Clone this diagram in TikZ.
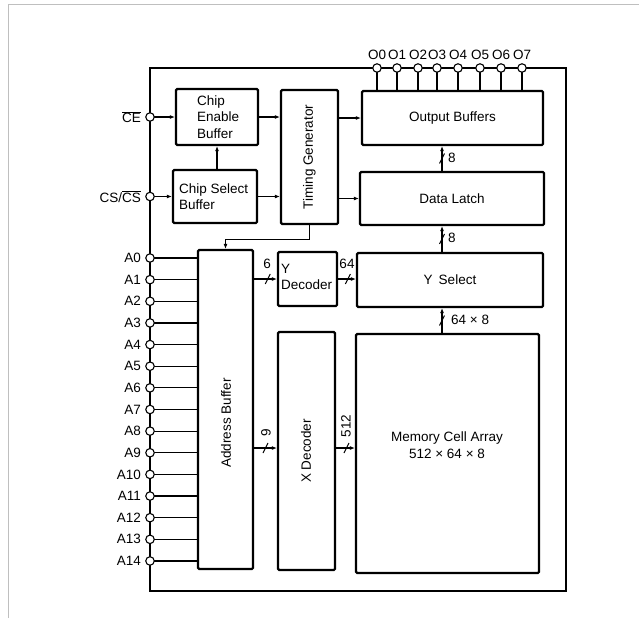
\documentclass[tikz,border=0pt]{standalone}
\usepackage{fontspec}
\setmainfont{Liberation Sans}
\usetikzlibrary{arrows.meta}
\newcommand\fs{\fontsize{13.5}{16.5}\selectfont}
\newcommand\ovl[1]{\ensuremath{\overline{\hbox{#1}}}}
\begin{document}
\begin{tikzpicture}[x=1pt,y=-1pt,
  blk/.style={draw,line width=2.2pt,rounded corners=1.2pt,fill=white,inner sep=0pt},
  txt/.style={font=\fs,inner sep=1pt},
  conn/.style={line width=1.2pt},
  arr/.style={conn,-{Latex[length=5pt,width=4pt]}},
  pinc/.style={circle,draw,line width=1.1pt,fill=white,minimum size=8.5pt,inner sep=0pt},
  lbl/.style={font=\fs,inner sep=1pt},
  slashln/.style={line width=1pt}
]
\useasboundingbox (0,0) rectangle (639,618);
% page frame
\draw[gray!50,line width=0.6pt] (8,618) -- (8,4) -- (639,4);
% chip outline
\draw[line width=1.6pt] (150,68) rectangle (566,591);

% blocks
\node[blk,minimum width=181pt,minimum height=54pt] (ob) at (452.5,118) {};
\node[txt] (obt) at (ob) {Output Buffers};
\node[blk,minimum width=184pt,minimum height=53pt] (dl) at (452,198.5) {};
\node[txt] (dlt) at (dl) {Data Latch};
\node[blk,minimum width=186pt,minimum height=54pt] (ys) at (450,280) {};
\node[txt] (yst) at (ys) {Y\hspace{6pt}Select};
\node[blk,minimum width=183pt,minimum height=239pt] (mca) at (447.5,453.5) {};
\node[txt,align=center] (mcat) at (447,445) {Memory Cell Array\\512 × 64 × 8};
\node[blk,minimum width=82pt,minimum height=56pt] (ceb) at (217,117) {};
\node[txt,align=left,anchor=west] (cebt) at (196,117) {Chip\\Enable\\Buffer};
\node[blk,minimum width=84pt,minimum height=53pt] (csb) at (215,196.5) {};
\node[txt,align=left,anchor=west] (csbt) at (178,196.5) {Chip Select\\Buffer};
\node[blk,minimum width=57pt,minimum height=134pt] (tg) at (309.5,157) {};
\node[txt,rotate=90] (tgt) at (tg) {Timing Generator};
\node[blk,minimum width=55pt,minimum height=319pt] (ab) at (225.5,409.5) {};
\node[txt,rotate=90] (abt) at (226,423) {Address Buffer};
\node[blk,minimum width=59pt,minimum height=54pt] (yd) at (307.5,279) {};
\node[txt,align=left,anchor=west] (ydt) at (280,277) {Y\\Decoder};
\node[blk,minimum width=57pt,minimum height=238pt] (xd) at (306.5,451) {};
\node[txt,rotate=90] (xdt) at (306,451) {X Decoder};

% helper coordinates
\coordinate (xrow) at (0,448);
\coordinate (busx) at (442,0);

% control connectors
\coordinate (cepos) at (150,117);
\coordinate (cspos) at (150,196.5);
\draw[arr] (cepos) -- (ceb.west |- cepos);
\draw[arr] (cspos) -- (csb.west |- cspos);
\draw[arr] (csb.north -| ceb.south) -- (ceb.south);
\draw[arr] (ceb.east) -- (ceb.east -| tg.west);
\draw[arr] (csb.east) -- (csb.east -| tg.west);
\draw[arr] (tg.east |- ob.west) -- (ob.west);
\draw[arr] (tg.east |- dl.west) -- (dl.west);
\draw[arr] (tg.south) -- ++(0,14) -| (ab.north);

% buses
\draw[arr] (ab.east |- yd.west) -- coordinate[pos=0.6] (s1) (yd.west);
\draw[arr] (yd.east) -- coordinate[pos=0.55] (s2) (yd.east -| ys.west);
\draw[arr] (ab.east |- xrow) -- coordinate[pos=0.5] (s3) (xd.west |- xrow);
\draw[arr] (xd.east |- xrow) -- coordinate[pos=0.55] (s4) (mca.west |- xrow);
\draw[arr] (mca.north -| busx) -- coordinate[pos=0.5] (s5) (ys.south -| busx);
\draw[arr] (ys.north -| busx) -- coordinate[pos=0.5] (s6) (dl.south -| busx);
\draw[arr] (dl.north -| busx) -- coordinate[pos=0.5] (s7) (ob.south -| busx);
\foreach \s in {s1,s2,s3,s4,s5,s6,s7}
  \draw[slashln] (\s) ++(-2.5,5) -- ++(5,-10);

% bus labels
\node[txt] (l6) at (267,264) {6};
\node[txt] (l64) at (347,264) {64};
\node[txt,rotate=90] (l9) at (266,433) {9};
\node[txt,rotate=90] (l512) at (346,426) {512};
\node[txt,anchor=west] (l8a) at (447,158) {8};
\node[txt,anchor=west] (l8b) at (447,238) {8};
\node[txt,anchor=west] (l648) at (450,320) {64 × 8};

% control pins
\node[pinc,label={[lbl,label distance=3pt]left:\ovl{CE}}] (ce) at (cepos) {};
\node[pinc,label={[lbl,label distance=3pt]left:CS/\ovl{CS}}] (cs) at (cspos) {};

% address pins
\foreach \i in {0,...,14} {
  \pgfmathsetmacro\yy{258+21.64*\i}
  \coordinate (ap\i) at (150,\yy);
  \draw[conn] (ap\i) -- (ap\i -| ab.west);
  \node[pinc,label={[lbl,label distance=3pt]left:A\i}] (a\i) at (ap\i) {};
}

% output pins
\foreach \x [count=\k from 0] in {377,397,418,437,458,480,501,522} {
  \coordinate (op\k) at (\x,68);
  \draw[conn] (op\k) -- (op\k |- ob.north);
  \node[pinc] (o\k) at (op\k) {};
  \node[lbl] (ol\k) at (\x,55) {O\k};
}
\end{tikzpicture}
\end{document}
